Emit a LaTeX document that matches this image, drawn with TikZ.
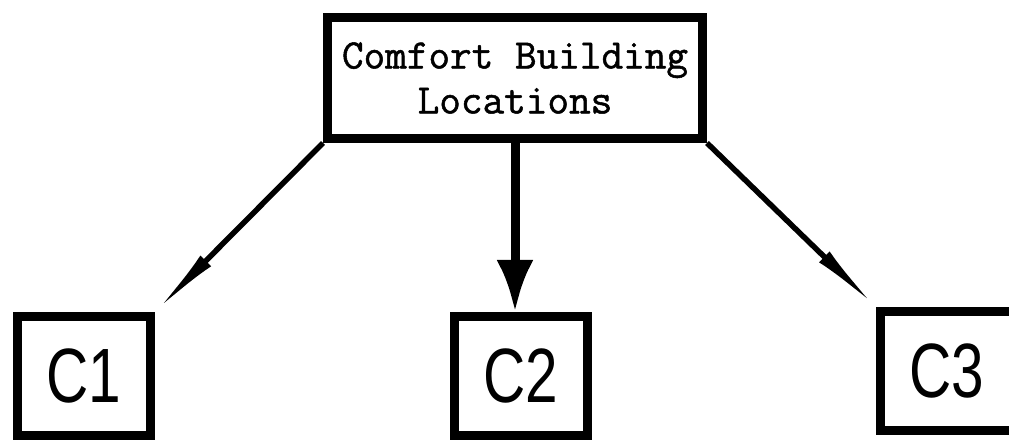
\documentclass[tikz,border=0pt]{standalone}
\usepackage{fontspec}
\usetikzlibrary{arrows.meta}
\newfontfamily\labelfont[FakeStretch=0.76]{Liberation Sans}
\newfontfamily\topfont[FakeBold=1.2]{Latin Modern Mono}

\begin{document}
\begin{tikzpicture}[x=1pt, y=1pt,
    topbox/.style={draw, line width=9pt, minimum width=375pt, minimum height=121pt, align=center, inner sep=0pt, font=\fontsize{42}{45}\selectfont\topfont},
    cbox/.style={draw, line width=9pt, minimum width=133pt, minimum height=119pt, inner sep=0pt, font=\fontsize{77}{80}\selectfont\labelfont},
    link/.style={line width=5.5pt, -{Latex[length=72pt, width=15pt]}},
    mainlink/.style={line width=9pt, -{Latex[length=52pt, width=37pt]}}
  ]
  \useasboundingbox (0,0) rectangle (1009,439);

  \node[topbox] (locations) at (515,361) {Comfort Building\\Locations};

  \node[cbox] (c1) at (84,63) {C1};
  \node[cbox] (c2) at (521,63) {C2};
  \node[cbox] (c3) at (947,68) {C3};

  \draw[link] (locations.south west) -- (c1.north east);
  \draw[mainlink] (locations.south) -- (locations.south |- c2.north);
  \draw[link] (locations.south east) -- (c3.north west);
\end{tikzpicture}
\end{document}
